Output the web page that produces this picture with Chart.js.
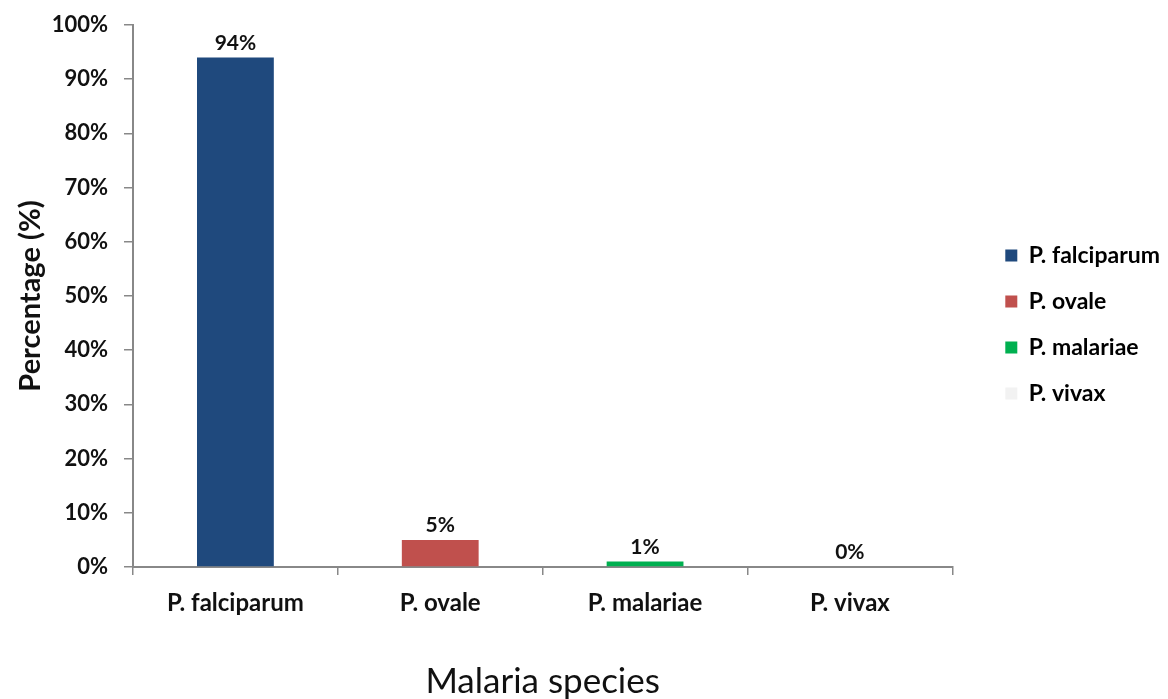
<!DOCTYPE html>
<html>
<head>
<meta charset="utf-8">
<script src="https://cdn.jsdelivr.net/npm/chart.js@4/dist/chart.umd.min.js"></script>
<style>
html,body{margin:0;padding:0;background:#fff;}
#wrap{width:1168px;height:699px;position:relative;}
</style>
</head>
<body>
<div id="wrap"><canvas id="c"></canvas></div>
<script>
const categories = ["P. falciparum", "P. ovale", "P. malariae", "P. vivax"];
const percentages = [94, 5, 1, 0];
const barColors = ["#1F497D", "#C0504D", "#00B050", "#F2F2F2"];
const yTicks = [0, 10, 20, 30, 40, 50, 60, 70, 80, 90, 100];

const FONT = "Lato, 'Open Sans', sans-serif";

const valueLabels = {
  id: 'valueLabels',
  afterDatasetsDraw(chart) {
    const ctx = chart.ctx;
    const meta = chart.getDatasetMeta(0);
    ctx.save();
    ctx.font = "bold 21px " + FONT;
    ctx.fillStyle = "#111";
    ctx.textAlign = "center";
    ctx.textBaseline = "bottom";
    meta.data.forEach((bar, i) => {
      ctx.fillText(percentages[i] + "%", bar.x, bar.y - 4);
    });
    ctx.restore();
  }
};

const legendShift = {
  id: 'legendShift',
  afterLayout(chart) {
    const lg = chart.legend;
    if (!lg) return;
    const dx = 30, dy = -29;
    lg.left += dx; lg.right += dx;
    lg.top += dy; lg.bottom += dy;
  }
};

new Chart(document.getElementById('c'), {
  type: 'bar',
  data: {
    labels: categories,
    datasets: [{
      label: 'Percentage',
      data: percentages,
      backgroundColor: barColors,
      borderWidth: 0,
      barPercentage: 0.375,
      categoryPercentage: 1
    }]
  },
  options: {
    responsive: true,
    maintainAspectRatio: false,
    animation: false,
    layout: { padding: { top: 8, right: 28, bottom: 0, left: 14 } },
    plugins: {
      tooltip: { enabled: false },
      legend: {
        position: 'right',
        align: 'center',
        labels: {
          font: { family: FONT, size: 23, weight: 'bold' },
          color: '#111',
          boxWidth: 12,
          boxHeight: 12,
          padding: 23,
          generateLabels(chart) {
            return categories.map((c, i) => ({
              text: c,
              fillStyle: barColors[i],
              strokeStyle: barColors[i],
              lineWidth: 0,
              hidden: false,
              index: i,
              datasetIndex: 0
            }));
          }
        }
      }
    },
    scales: {
      x: {
        afterFit(scale) { scale.height = 132; },
        grid: {
          display: true,
          drawOnChartArea: false,
          drawTicks: true,
          tickLength: 8,
          color: '#888',
          lineWidth: 1.5,
          offset: true
        },
        border: { display: true, color: '#888', width: 2 },
        ticks: {
          font: { family: FONT, size: 24, weight: 'bold' },
          color: '#111',
          padding: 14
        },
        title: {
          display: true,
          text: 'Malaria species',
          font: { family: FONT, size: 35, weight: 'normal', lineHeight: 1.0 },
          color: '#111',
          padding: { top: 40, bottom: 0 }
        }
      },
      y: {
        min: 0,
        max: 100,
        afterFit(scale) { scale.width = 119; scale.paddingTop = 25; },
        afterBuildTicks(axis) {
          axis.ticks = yTicks.map(v => ({ value: v }));
        },
        grid: {
          display: true,
          drawOnChartArea: false,
          drawTicks: true,
          tickLength: 9,
          color: '#888',
          lineWidth: 1.5
        },
        border: { display: true, color: '#888', width: 2 },
        ticks: {
          font: { family: FONT, size: 22, weight: 'bold' },
          color: '#111',
          padding: 16,
          callback: v => v + '%'
        },
        title: {
          display: true,
          text: 'Percentage (%)',
          font: { family: FONT, size: 29, weight: 'bold', lineHeight: 1.0 },
          color: '#111',
          padding: { top: 2, bottom: 0 }
        }
      }
    }
  },
  plugins: [valueLabels, legendShift]
});
</script>
</body>
</html>
